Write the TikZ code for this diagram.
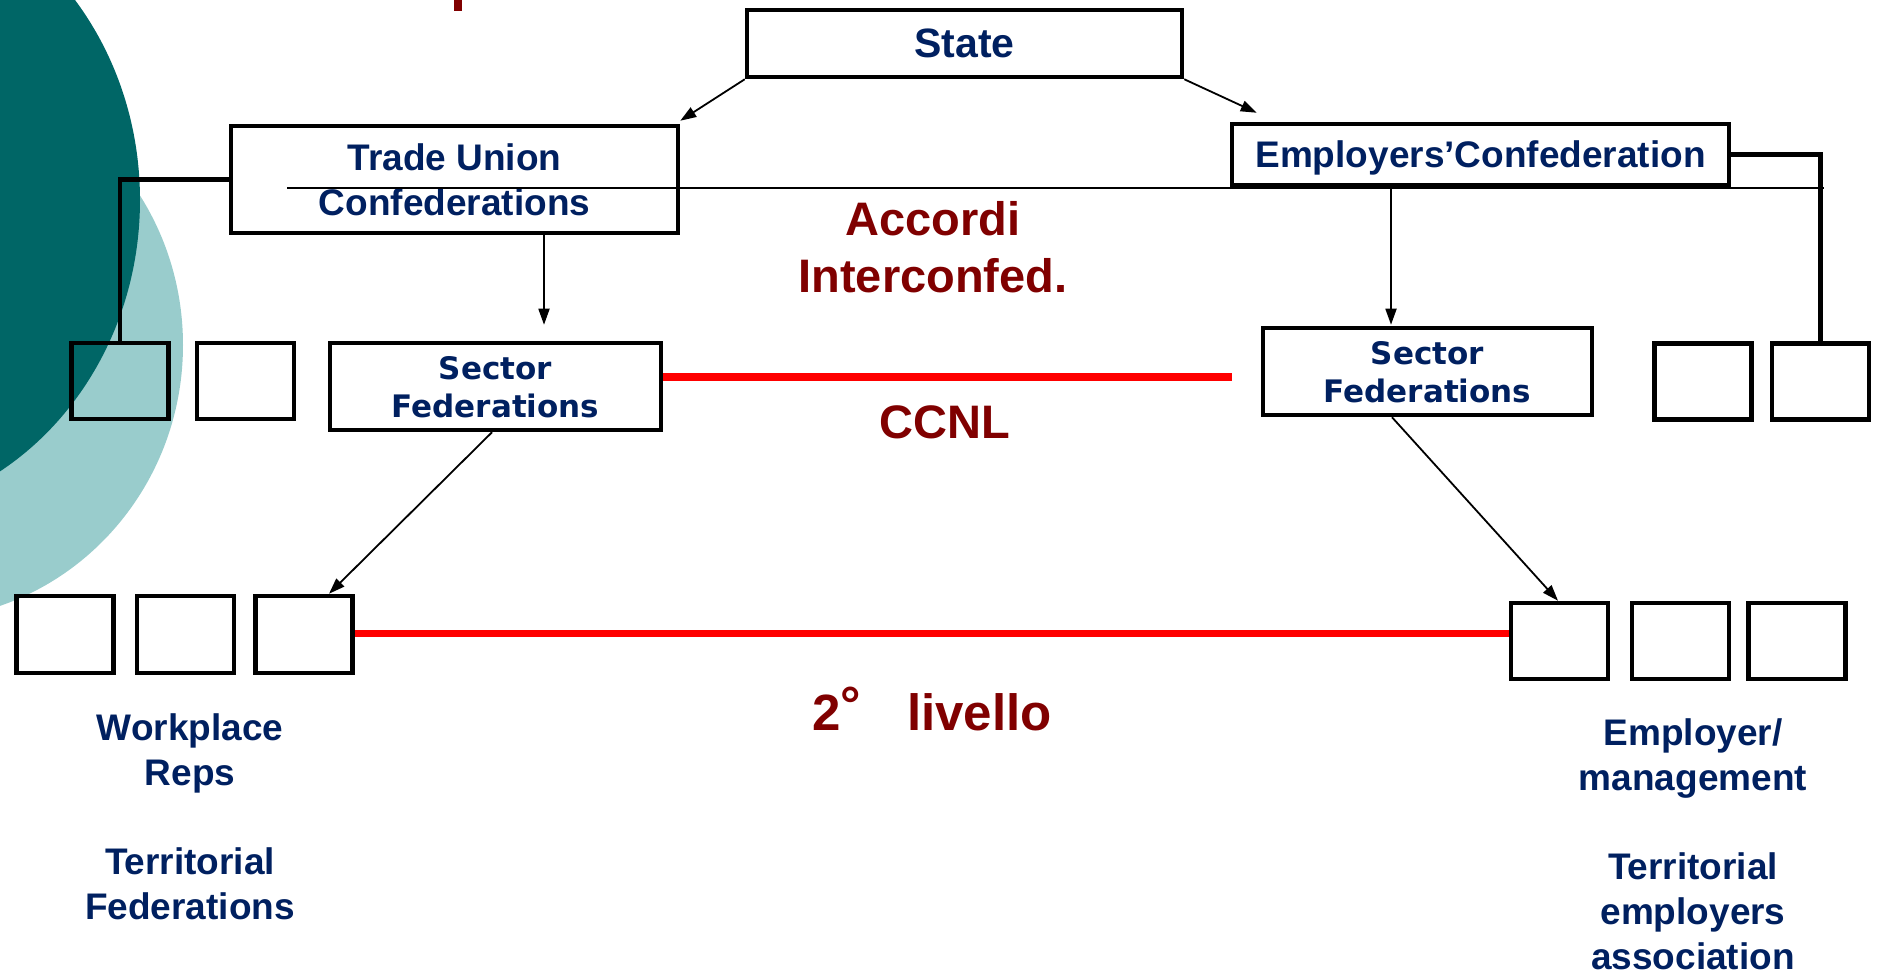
\documentclass[tikz,border=0pt]{standalone}
\usepackage{fontspec}
\setmainfont{Liberation Sans}
\newfontfamily\secfont{DejaVu Sans}
\usetikzlibrary{arrows.meta,calc}
\definecolor{navy}{RGB}{0,32,96}
\definecolor{darkred}{RGB}{128,0,0}
\definecolor{tealdark}{RGB}{0,102,102}
\definecolor{teallight}{RGB}{153,204,204}
\definecolor{redline}{RGB}{255,0,0}
\tikzset{
  bigbox/.style={draw=black, line width=4.5pt, fill=white, inner sep=0pt, align=center, text=navy, font=\bfseries\fontsize{37}{45}\selectfont},
  secbox/.style={draw=black, line width=4.5pt, fill=white, inner sep=0pt, align=center, text=navy, text depth=0pt, font=\secfont\bfseries\fontsize{31}{38}\selectfont, minimum width=331pt, minimum height=87pt},
  smallbox/.style={draw=black, line width=4.5pt, inner sep=0pt, minimum width=97pt, minimum height=76pt},
  midlabel/.style={text=darkred, align=center, inner sep=0pt, font=\bfseries\fontsize{47}{57}\selectfont},
  sidelabel/.style={text=navy, align=center, inner sep=0pt, font=\bfseries\fontsize{37}{45}\selectfont},
  arr/.style={line width=1.8pt, -{Triangle[length=16pt,width=11pt]}},
  bracket/.style={line width=4.5pt},
  redbar/.style={line width=7.5pt, draw=redline}
}
\begin{document}
\begin{tikzpicture}[x=1pt,y=-1pt]
\useasboundingbox (0,0) rectangle (1878,973);
\begin{scope}
\clip (0,0) rectangle (1878,973);
\fill[teallight] (-85,345) ellipse [x radius=268pt, y radius=275pt];
\fill[tealdark] (-150,200) ellipse [x radius=290pt, y radius=317pt];
\fill[darkred] (454,0) rectangle (462,11);
\end{scope}

% boxes
\node[bigbox, minimum width=435pt, minimum height=67pt, font=\bfseries\fontsize{41}{49}\selectfont] (st) at (964.5,43.5) {State};
\node[bigbox, minimum width=447pt, minimum height=107pt] (tu) at (454.5,179.5) {Trade Union\\Confederations};
\node[bigbox, minimum width=497pt, minimum height=61pt, text depth=0pt] (ec) at (1480.5,154.5) {Employers'Confederation};
\node[secbox] (sfl) at (495.5,386.5) {Sector\\Federations};
\node[secbox, minimum width=329pt] (sfr) at (1427.5,371.5) {Sector\\Federations};

\node[smallbox] (a1) at (120,381) {};
\node[smallbox] (a2) at (245.5,381) {};
\node[smallbox] (b1) at (1703,381.5) {};
\node[smallbox] (b2) at (1820.5,381.5) {};

\node[smallbox, minimum height=77pt] (c1) at (65,634.5) {};
\node[smallbox, minimum height=77pt] (c2) at (185.5,634.5) {};
\node[smallbox, minimum height=77pt] (c3) at (304,634.5) {};
\node[smallbox] (d1) at (1559.5,641) {};
\node[smallbox] (d2) at (1680.5,641) {};
\node[smallbox] (d3) at (1797,641) {};

% thin horizontal line
\coordinate (hlA) at (287,188);
\coordinate (hlB) at (1824,188);
\draw[line width=1.8pt] (hlA) -- (hlB);

% brackets
\draw[bracket] (tu.west) -| (a1.north);
\draw[bracket] (ec.east) -| (b2.north);

% red lines
\coordinate (ccnlEnd) at (1232,377);
\draw[redbar] (sfl.east |- ccnlEnd) -- (ccnlEnd);
\draw[redbar] ([yshift=1pt]c3.east) -- ([yshift=1pt]c3.east -| d1.west);

% arrows
\draw[arr] (st.south west) -- ([yshift=3pt]tu.north east);
\draw[arr] (st.south east) -- ([xshift=27pt,yshift=9pt]ec.north west);
\draw[arr] ([xshift=89.5pt,yshift=4pt]tu.south) -- ([xshift=48.5pt,yshift=16pt]sfl.north);
\draw[arr] ([xshift=-89.5pt]ec.south) -- ([xshift=-36.5pt,yshift=1pt]sfr.north);
\draw[arr] ([xshift=-3.5pt]sfl.south) -- ([xshift=25pt]c3.north);
\draw[arr] ([xshift=-35.5pt]sfr.south) -- ([xshift=-1.5pt]d1.north);

% labels
\node[midlabel] (acc) at (933,247) {Accordi\\Interconfed.};
\node[midlabel] (ccnl) at (945,422) {CCNL};
\node[midlabel, anchor=base, font=\bfseries\fontsize{51}{61}\selectfont] (liv) at (932,730) {2\raisebox{8pt}{°}\hspace{46pt}livello};
\node[sidelabel] (wr) at (190,753) {Workplace\\Reps};
\node[sidelabel] (tf) at (190,884) {Territorial\\Federations};
\node[sidelabel] (em) at (1693,759) {Employer/\\management};
\node[sidelabel] (te) at (1693,911) {Territorial\\employers\\association};
\end{tikzpicture}
\end{document}
